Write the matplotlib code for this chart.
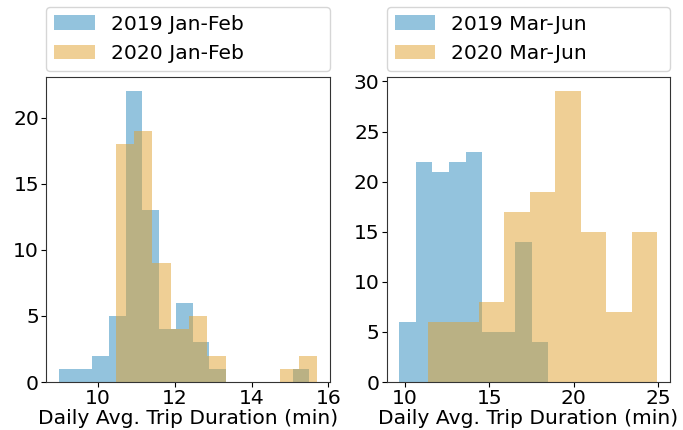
import numpy as np
import matplotlib
matplotlib.use("Agg")
import matplotlib.pyplot as plt

# Daily average trip duration histograms (counts per bin)
jan_feb_2019_counts = [1, 1, 2, 5, 22, 13, 4, 6, 3, 1, 0, 0, 0, 0, 1]
jan_feb_2019_range = (8.975, 15.505)
jan_feb_2020_counts = [18, 19, 9, 4, 5, 2, 0, 0, 0, 1, 2]
jan_feb_2020_range = (10.46, 15.70)

mar_jun_2019_counts = [6, 22, 21, 22, 23, 5, 5, 14, 4]
mar_jun_2019_range = (9.70, 18.48)
mar_jun_2020_counts = [6, 6, 8, 17, 19, 29, 15, 7, 15]
mar_jun_2020_range = (11.38, 24.92)

labels_left = ["2019 Jan-Feb", "2020 Jan-Feb"]
labels_right = ["2019 Mar-Jun", "2020 Mar-Jun"]
x_label = "Daily Avg. Trip Duration (min)"

BLUE = "#2989bd"
ORANGE = "#e1a12d"
FS = 14.6

plt.rcParams["font.family"] = ["DejaVu Sans"]
plt.rcParams["font.size"] = FS


def draw_hist(ax, counts, value_range, color, label):
    edges = np.linspace(value_range[0], value_range[1], len(counts) + 1)
    centers = (edges[:-1] + edges[1:]) / 2
    ax.hist(centers, bins=edges, weights=counts, color=color, alpha=0.5,
            label=label)


fig = plt.figure(figsize=(6.83, 4.30), dpi=100)
ax1 = fig.add_axes([0.0673, 0.1116, 0.4157, 0.7094])
ax2 = fig.add_axes([0.566, 0.1116, 0.415, 0.7094])

draw_hist(ax1, jan_feb_2019_counts, jan_feb_2019_range, BLUE, labels_left[0])
draw_hist(ax1, jan_feb_2020_counts, jan_feb_2020_range, ORANGE, labels_left[1])
draw_hist(ax2, mar_jun_2019_counts, mar_jun_2019_range, BLUE, labels_right[0])
draw_hist(ax2, mar_jun_2020_counts, mar_jun_2020_range, ORANGE, labels_right[1])

ax1.set_xticks([10, 12, 14, 16])
ax1.set_yticks([0, 5, 10, 15, 20])
ax2.set_xticks([10, 15, 20, 25])
ax2.set_yticks([0, 5, 10, 15, 20, 25, 30])

for ax in (ax1, ax2):
    ax.set_xlabel(x_label, fontsize=FS, labelpad=1)
    ax.tick_params(labelsize=FS, length=3.5, pad=1.5)
    for sp in ax.spines.values():
        sp.set_color("#333333")
    ax.legend(bbox_to_anchor=(0, 1.02, 1, 0.2), loc="lower left",
              mode="expand", borderaxespad=0, fontsize=FS,
              edgecolor="#cccccc")

fig.savefig("out.png", dpi=100)
